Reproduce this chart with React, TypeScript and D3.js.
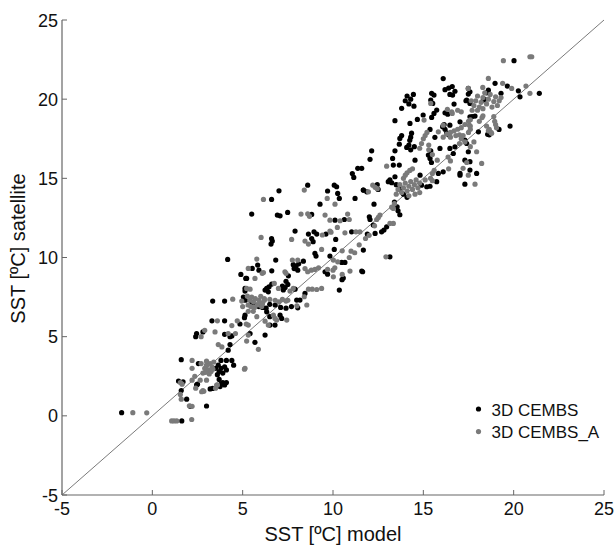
import React from "react";
import * as d3 from "d3";

// [model, satellite] pairs
const cembs: [number, number][] = [
  [-1.7,0.2],[1.63,-0.32],[3.0,0.62],[2.1,0.6],[1.9,1.05],[1.6,1.6],[1.45,2.2],[1.7,2.15],[2.45,1.95],[2.5,2.0],[3.2,1.7],[3.34,1.73],[3.7,2.3],[3.8,2.0],[3.9,2.1],[4.0,1.95],[4.1,2.1],[3.75,1.85],
  [1.6,3.55],[2.55,3.3],[3.6,2.6],[3.7,2.8],[3.8,3.0],[3.9,2.7],[4.0,3.1],[4.1,2.9],[3.65,3.2],[3.8,3.5],[4.1,3.5],[4.4,3.5],[4.5,3.2],[3.5,3.0],
  [4.2,4.15],[4.3,4.5],[4.0,5.15],[4.3,5.0],[4.4,5.05],[2.45,5.2],[2.4,5.0],[2.8,5.3],[3.3,6.0],[4.0,6.0],[4.85,5.8],[5.1,6.2],[3.34,7.25],[4.0,7.25],[5.15,7.3],[5.04,7.5],
  [4.17,9.88],[4.9,8.93],[5.17,8.68],[5.13,7.88],
  [5.5,12.74],[6.6,13.67],[7.01,14.21],[8.6,14.57],[9.28,13.37],[10.07,14.57],[10.2,14.47],[9.7,14.2],[10.26,14.05],[10.35,13.73],[11.22,13.73],[11.37,15.63],[11.07,15.3],[11.15,15.06],[11.68,14.26],[6.92,12.68],[7.07,12.63],[7.49,12.85],[8.82,12.72],[10.11,12.36],[10.63,12.4],[7.9,11.67],[8.64,11.48],[8.95,11.62],[9.1,11.48],[9.61,11.48],[11.03,11.62],[6.6,11.2],[6.64,11.04],[6.57,10.85],[8.82,11.2],[8.9,11.0],[10.15,11.14],[9.0,10.26],[10.07,10.51],[11.68,10.47],
  [6.83,9.84],[8.36,9.77],[9.06,10.09],[9.83,10.09],[10.48,9.69],[10.66,9.69],[5.83,9.52],[5.53,9.31],[5.9,9.2],[6.61,9.16],[7.85,9.3],[7.95,9.45],[8.05,9.2],[7.8,9.55],[8.1,9.6],[9.56,9.1],[9.7,8.95],[10.57,8.7],[10.5,8.6],[11.59,9.14],[5.22,8.68],[7.53,8.84],[7.4,8.5],[7.5,8.3],[7.35,8.1],[7.25,7.95],[7.2,8.2],[6.61,8.32],[6.46,8.15],[6.33,8.05],[6.24,7.94],[6.42,7.83],[5.13,8.05],[7.9,8.0],[8.45,7.73],[7.99,7.31],[8.17,7.31],[10.35,7.94],
  [5.5,7.15],[5.75,7.0],[5.9,6.9],[6.1,6.85],[6.3,6.8],[6.5,7.04],[6.8,7.0],[7.1,6.85],[7.4,6.8],[7.7,6.9],[8.05,6.82],[5.13,6.36],[6.33,6.57],[6.5,6.26],[7.07,6.36],[7.16,6.15],[6.51,5.73],[6.79,5.73],[5.41,5.2],[6.24,5.1],[5.68,4.64],
  [12.14,16.74],[12.05,16.2],[13.34,15.84],[11.59,15.63],[13.43,15.1],[13.67,15.84],[13.3,16.26],[13.43,16.74],[14.08,16.95],[14.3,16.8],[14.5,17.0],[13.67,17.16],[14.2,17.1],[14.25,17.4],[14.3,17.6],[14.35,17.85],[13.7,17.52],[13.8,17.7],[13.43,18.64],[14.67,18.72],[14.26,18.47],[14.99,19.0],[15.46,18.85],[15.59,19.1],[15.74,19.31],[15.37,18.09],[13.8,19.42],[14.48,19.56],[14.0,19.9],[14.1,20.2],[14.3,20.0],[14.45,20.3],[14.2,19.7],[15.46,20.37],[15.59,20.26],[15.41,19.94],[15.52,19.73],[16.1,21.3],[16.2,20.6],[16.4,20.7],[16.6,20.8],[16.75,20.5],[16.47,20.3],[16.62,20.26],[16.7,19.69],[16.2,19.14],[16.35,19.05],[16.47,18.36],[17.03,18.57],[15.64,17.59],[16.29,17.88],[16.4,17.75],[15.92,16.89],[15.41,16.74],[15.28,16.47],[16.47,16.89],[16.75,16.99],[16.66,16.57],[17.49,16.68],[17.3,16.15],[17.58,15.52],[17.95,15.31],[14.54,16.15],[14.82,15.2],[16.1,15.41],[15.37,16.26],[15.45,16.0],[17.03,15.31],[17.49,20.32],[17.36,19.9],[17.58,19.73],[17.49,20.68],[17.58,20.47],[18.6,20.57],[18.5,20.4],[17.4,19.94],[18.32,19.94],[17.58,18.89],[17.7,18.9],[16.07,18.26],[16.2,18.1],[16.15,18.4],[17.3,17.42],[17.4,17.2],[17.58,16.05],[17.03,15.2],[15.83,15.31],
  [13.06,14.79],[13.25,14.72],[13.15,14.9],[11.68,14.26],[11.87,14.15],[12.45,14.6],[12.5,14.3],[13.5,14.6],[13.7,14.3],[14.1,13.8],[13.9,14.0],[13.4,13.5],[13.55,13.2],[13.6,12.95],[13.7,12.7],[14.9,14.57],[15.19,14.47],[15.37,14.5],[15.74,14.79],[17.3,14.63],[12.27,13.37],[12.01,12.57],[12.05,12.4],[12.23,12.05],[12.97,11.94],[12.82,11.73],[12.69,11.62],[11.9,11.48],[12.33,11.52],[13.15,10.04],[11.64,9.1],
  [20.02,22.43],[18.97,21.0],[19.65,20.83],[20.26,20.53],[20.35,20.15],[21.42,20.37],[19.8,18.3],[18.4,19.99],[19.3,20.37],[17.86,18.93],[18.05,17.94],[19.19,18.09],[18.56,17.78],[18.65,17.75],
];

const cembsA: [number, number][] = [
  [-1.08,0.2],[-0.31,0.19],[1.07,-0.32],[1.2,-0.32],[1.35,-0.32],[2.18,-0.23],[1.55,1.35],[1.6,1.05],[2.05,0.63],[2.2,0.6],
  [1.55,2.1],[1.65,2.0],[2.2,2.25],[2.4,1.75],[2.73,1.52],[2.85,1.55],[2.8,1.6],[3.56,1.94],[3.5,1.75],[3.6,1.95],
  [2.35,2.5],[2.65,2.25],[3.0,2.25],[2.2,3.5],[2.2,3.0],[2.8,2.7],[2.9,3.0],[3.0,3.2],[3.1,2.9],[3.2,3.3],[3.3,3.1],[3.4,3.4],[3.0,3.45],[3.15,2.65],[3.25,2.8],[2.95,2.75],[3.35,2.95],[2.7,3.3],[5.1,2.95],[5.13,3.0],
  [3.65,4.5],[3.85,4.35],[2.9,5.4],[3.47,5.3],[4.2,5.2],[4.6,5.2],[2.7,5.0],[3.6,6.0],[4.4,5.7],[4.7,6.0],[5.2,5.8],[4.95,7.25],[5.0,6.9],[4.45,7.37],[5.26,7.56],[5.22,4.72],[5.87,4.2],[5.31,5.1],[5.31,5.73],
  [5.31,9.31],[5.68,8.68],[6.08,9.0],[6.15,9.05],[7.34,9.1],[7.4,9.0],[8.45,9.3],[8.6,9.1],[8.8,9.2],[9.0,9.25],[9.2,9.35],[9.7,9.25],[10.0,9.2],[10.1,9.35],[10.02,8.78],[10.51,8.93],[10.94,9.14],[5.78,9.9],[7.75,9.84],[8.05,9.84],[10.02,9.84],[10.26,9.73],[6.75,8.36],[6.98,8.05],[5.22,8.05],[5.41,8.0],[7.62,7.88],[7.8,8.05],[8.64,8.0],[8.85,8.0],[9.1,7.98],[9.37,8.05],[8.41,7.52],
  [5.3,7.0],[5.4,7.3],[5.5,7.5],[5.6,7.2],[5.7,7.4],[5.8,7.0],[5.9,7.3],[6.0,7.55],[6.1,7.1],[6.2,7.4],[5.45,6.9],[5.65,6.85],[5.95,7.15],[6.05,6.9],
  [6.2,7.3],[6.5,7.35],[6.8,7.3],[7.0,7.2],[7.2,7.35],[7.4,7.25],[7.5,7.3],[8.0,6.95],[8.55,7.0],[5.31,6.6],[5.59,6.6],[5.78,6.26],[6.7,6.36],[6.79,6.15],[6.88,6.05],[6.24,5.98],[6.42,5.73],[7.44,6.05],
  [8.41,14.26],[9.68,13.73],[6.15,13.67],[10.11,13.37],[8.23,12.74],[8.6,12.76],[8.7,12.6],[9.56,12.68],[10.81,12.74],[9.83,12.36],[10.39,12.32],[10.9,12.4],[10.24,11.9],[9.83,11.67],[9.41,11.42],[9.89,11.6],[10.66,11.56],[11.27,11.62],[11.49,11.62],[6.02,11.27],[7.71,11.14],[8.45,11.04],[8.64,10.85],[9.37,10.51],[10.51,10.42],[11.0,10.4],
  [10.9,10.0],[11.2,10.3],[11.45,10.8],[11.8,11.2],[12.0,11.4],[12.42,12.4],[12.51,12.53],[12.6,12.68],[12.3,12.0],[13.15,12.15],[13.34,12.15],[12.93,10.04],
  [13.5,14.0],[13.6,14.3],[13.7,14.6],[13.8,14.1],[13.9,14.4],[14.0,14.7],[14.1,14.2],[14.2,14.5],[14.3,14.8],[14.4,14.3],[14.5,14.6],[14.6,14.9],[14.7,14.4],[14.8,14.7],[14.2,13.9],[14.54,14.0],[14.8,14.1],[13.25,13.18],[13.34,13.1],[13.4,13.4],[12.2,14.57],[11.96,14.15],[12.33,14.43],[12.45,14.35],[17.86,14.63],[15.1,14.9],[15.5,14.85],
  [12.97,15.77],[13.9,15.0],[14.0,15.2],[14.1,15.35],[14.25,15.5],[14.4,15.6],[15.4,15.0],[15.5,15.3],[15.6,15.5],[16.4,15.6],[17.2,15.63],[17.4,16.0],[17.49,15.2],[18.23,15.94],[15.77,16.15],[15.5,16.5],[15.3,16.8],[16.37,16.34],[16.5,16.1],
  [14.8,16.9],[14.9,17.2],[15.0,17.5],[15.1,17.7],[15.2,17.9],[15.3,17.1],[15.83,17.94],[16.1,17.6],[16.3,17.8],[16.5,17.9],[16.7,18.0],[16.9,18.1],[17.1,18.2],[17.2,17.7],[17.5,17.9],[17.6,18.1],[17.55,18.35],[17.0,17.2],[17.1,17.5],[17.3,17.3],[17.6,17.0],[17.8,17.3],[17.95,16.68],[16.5,17.6],[16.8,17.7],[17.0,17.75],
  [15.04,18.68],[16.33,19.36],[16.57,19.2],[16.6,19.1],[16.9,19.3],[17.1,19.2],[16.1,18.36],[17.3,18.4],[17.5,18.6],[17.6,18.7],[15.41,19.73],[17.49,20.68],[17.65,19.9],
  [17.7,19.3],[17.8,19.6],[17.9,19.9],[18.0,20.2],[18.1,19.5],[18.2,19.8],[18.3,20.1],[18.4,20.4],[18.5,19.7],[18.6,20.0],[18.7,20.3],[18.8,19.5],[18.9,19.85],[19.0,20.15],[19.1,19.6],[19.2,19.9],[19.3,20.1],[18.0,19.3],[18.3,19.4],[18.29,20.74],[18.6,21.31],[19.39,21.0],[19.89,20.68],[20.68,20.83],[20.9,20.37],[19.43,22.43],[20.9,22.68],[21.0,22.68],
  [18.25,18.84],[18.3,18.95],[18.9,18.9],[18.95,18.6],[19.0,18.4],[19.05,18.2],[18.5,18.3],[18.65,18.1],[18.75,17.9],[18.6,18.0],[18.78,17.84],[17.6,18.3],[18.1,18.6],
];

const xTicks = [-5, 0, 5, 10, 15, 20, 25];
const yTicks = [-5, 0, 5, 10, 15, 20, 25];
const seriesNames = ["3D CEMBS", "3D CEMBS_A"];
const seriesColors = ["#000000", "#7a7a7a"];
const xTitle = "SST [ºC] model";
const yTitle = "SST [ºC] satellite";

const W = 616;
const H = 545;
const FONT = "'Liberation Sans', Arial, Helvetica, sans-serif";

export default function App() {
  const x = d3.scaleLinear().domain([-5, 25]).range([62, 604]);
  const y = d3.scaleLinear().domain([-5, 25]).range([495, 20]);
  const axisColor = "#666";
  const series = [cembs, cembsA];

  return (
    <svg
      width={W}
      height={H}
      style={{ position: "absolute", left: 0, top: 0, background: "#fff" }}
      fontFamily={FONT}
    >
      <rect width={W} height={H} fill="#fff" />
      {/* 1:1 line */}
      <line x1={x(-5)} y1={y(-5)} x2={x(25)} y2={y(25)} stroke="#7a7a7a" strokeWidth={1} />
      {/* points */}
      {series.map((s, si) => (
        <g key={si} fill={seriesColors[si]}>
          {s.map((d, i) => (
            <circle key={i} cx={x(d[0])} cy={y(d[1])} r={2.6} />
          ))}
        </g>
      ))}
      {/* axes */}
      <line x1={x(-5)} y1={y(-5)} x2={x(25)} y2={y(-5)} stroke={axisColor} strokeWidth={1.2} />
      <line x1={x(-5)} y1={y(-5)} x2={x(-5)} y2={y(25)} stroke={axisColor} strokeWidth={1.2} />
      {xTicks.map((t) => (
        <g key={"x" + t}>
          <line x1={x(t)} x2={x(t)} y1={y(-5)} y2={y(-5) - 5} stroke={axisColor} strokeWidth={1} />
          <text x={x(t)} y={515} textAnchor="middle" fontSize={18} fill="#111">
            {t < 0 ? "-" + Math.abs(t) : String(t)}
          </text>
        </g>
      ))}
      {yTicks.map((t) => (
        <g key={"y" + t}>
          <line x1={x(-5)} x2={x(-5) + 5} y1={y(t)} y2={y(t)} stroke={axisColor} strokeWidth={1} />
          <text x={58} y={y(t) + 6.5} textAnchor="end" fontSize={18} fill="#111">
            {t < 0 ? "-" + Math.abs(t) : String(t)}
          </text>
        </g>
      ))}
      {/* titles */}
      <text x={333} y={541} textAnchor="middle" fontSize={20} fill="#111">
        {xTitle}
      </text>
      <text
        transform={`translate(25,${y(10) - 9}) rotate(-90)`}
        textAnchor="middle"
        fontSize={20}
        fill="#111"
      >
        {yTitle}
      </text>
      {/* legend */}
      {seriesNames.map((n, i) => (
        <g key={n}>
          <circle cx={478.5} cy={409 + i * 22.6} r={2.6} fill={seriesColors[i]} />
          <text x={491.5} y={415.5 + i * 22.6} fontSize={17} fill="#111">
            {n}
          </text>
        </g>
      ))}
    </svg>
  );
}
